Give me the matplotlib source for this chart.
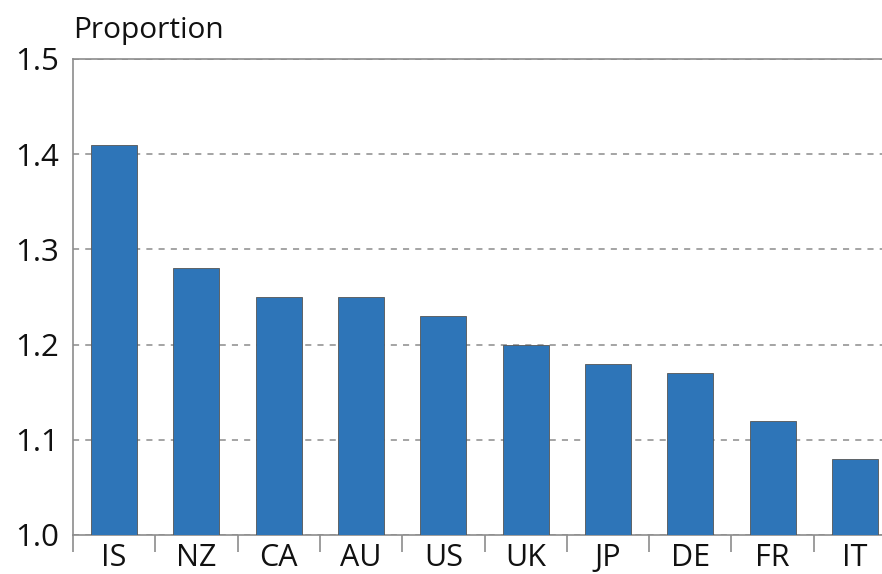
#!/usr/bin/env python3
"""Bar chart of proportions by country."""

import matplotlib

matplotlib.use("Agg")
import matplotlib.pyplot as plt
from matplotlib.ticker import FixedLocator

countries = ["IS", "NZ", "CA", "AU", "US", "UK", "JP", "DE", "FR", "IT"]
proportions = [1.41, 1.28, 1.25, 1.25, 1.23, 1.20, 1.18, 1.17, 1.12, 1.08]
y_ticks = [1.0, 1.1, 1.2, 1.3, 1.4, 1.5]

BAR_COLOR = "#2e75b8"
GREY = "#8c8c8c"

plt.rcParams["font.family"] = ["Open Sans", "DejaVu Sans"]

W, H = 882, 574
fig = plt.figure(figsize=(W / 100, H / 100), dpi=100)
left, right, top, bottom = 73, 896, 59, 535
ax = fig.add_axes([left / W, 1 - bottom / H, (right - left) / W, (bottom - top) / H])

x = list(range(len(countries)))
ax.bar(x, proportions, width=0.56, color=BAR_COLOR, edgecolor="#555555",
       linewidth=0.6, zorder=3)

ax.set_xlim(-0.5, len(countries) - 0.5)
ax.set_ylim(1.0, 1.5)
ax.set_yticks(y_ticks)
ax.set_yticklabels([f"{v:.1f}" for v in y_ticks])
ax.set_xticks(x)
ax.set_xticklabels(countries)
ax.xaxis.set_minor_locator(FixedLocator([i - 0.5 for i in range(len(countries) + 1)]))

ax.tick_params(axis="x", which="major", length=0, pad=6, labelsize=22, colors="#111111")
ax.tick_params(axis="x", which="minor", length=12, width=1.2, color=GREY)
ax.tick_params(axis="y", length=0, pad=10, labelsize=22.5, colors="#111111")

for side in ("left", "top", "bottom"):
    ax.spines[side].set_color(GREY)
    ax.spines[side].set_linewidth(1.2)
ax.spines["right"].set_visible(False)

ax.yaxis.grid(True, linestyle=(0, (4, 4)), color=GREY, linewidth=1.1, zorder=1)
ax.set_axisbelow(True)

fig.text(left / W, 1 - 38 / H, "Proportion", fontsize=21.5, color="#111111",
         ha="left", va="baseline")

fig.savefig("out.png", dpi=100)
plt.close(fig)
